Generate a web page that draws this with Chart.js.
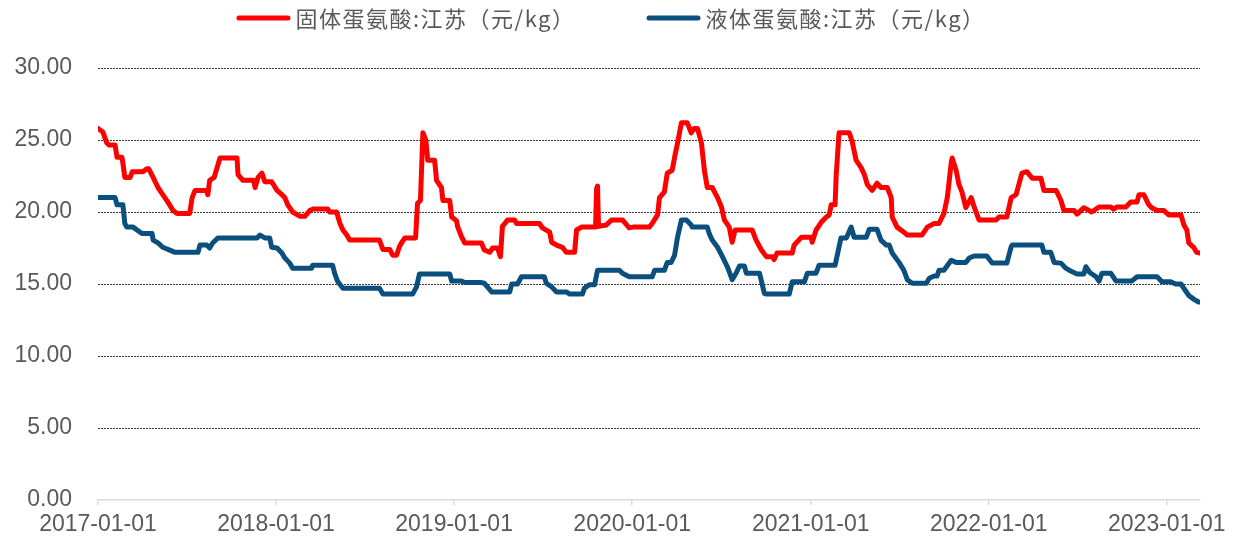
<!DOCTYPE html>
<html><head><meta charset="utf-8">
<script src="https://cdn.jsdelivr.net/npm/chart.js@4.4.1/dist/chart.umd.min.js"></script>
<style>html,body{margin:0;padding:0;background:#fff}</style>
</head><body>
<canvas id="c" width="1236" height="543"></canvas>
<script>
const seriesNames = ['固体蛋氨酸:江苏（元/kg）', '液体蛋氨酸:江苏（元/kg）'];
const seriesColors = ['#ff0000', '#0a4f7e'];
const xTickLabels = ['2017-01-01','2018-01-01','2019-01-01','2020-01-01','2021-01-01','2022-01-01','2023-01-01'];
const xStart = '2017-01-01';
const xEnd = '2023-03-10';
const yMin = 0, yMax = 30, yStep = 5;

const redDates = ['2017-01-01','2017-01-11','2017-01-19','2017-01-24','2017-02-05','2017-02-09','2017-02-19','2017-02-21','2017-02-25','2017-03-08','2017-03-12','2017-04-03','2017-04-11','2017-04-15','2017-04-24','2017-05-04','2017-05-12','2017-05-24','2017-06-04','2017-06-12','2017-07-08','2017-07-13','2017-07-19','2017-08-12','2017-08-14','2017-08-18','2017-08-27','2017-09-02','2017-09-08','2017-10-13','2017-10-15','2017-10-25','2017-11-16','2017-11-19','2017-11-25','2017-12-03','2017-12-09','2017-12-23',
'2018-01-03','2018-01-13','2018-01-19','2018-01-25','2018-02-04','2018-02-19','2018-03-01','2018-03-11','2018-03-17','2018-04-17','2018-04-21','2018-05-05','2018-05-12','2018-05-18','2018-05-26','2018-06-01','2018-08-01','2018-08-08','2018-08-22','2018-08-28','2018-09-05','2018-09-11','2018-09-16','2018-09-22','2018-10-14','2018-10-18','2018-10-24','2018-10-29','2018-11-04','2018-11-08','2018-11-22','2018-11-26','2018-12-06','2018-12-09','2018-12-23','2018-12-27',
'2019-01-06','2019-01-08','2019-01-16','2019-01-23','2019-02-26','2019-03-04','2019-03-15','2019-03-21','2019-03-31','2019-04-06','2019-04-10','2019-04-21','2019-05-05','2019-05-09','2019-06-25','2019-07-01','2019-07-16','2019-07-20','2019-07-30','2019-08-11','2019-08-19','2019-09-05','2019-09-09','2019-09-19','2019-10-18','2019-10-20','2019-10-22','2019-10-24','2019-11-09','2019-11-20','2019-12-12','2019-12-26',
'2020-01-02','2020-02-05','2020-02-11','2020-02-22','2020-02-26','2020-03-07','2020-03-13','2020-03-23','2020-03-28','2020-04-03','2020-04-11','2020-04-23','2020-05-01','2020-05-07','2020-05-14','2020-05-22','2020-05-28','2020-06-03','2020-06-13','2020-06-24','2020-07-02','2020-07-08','2020-07-18','2020-07-24','2020-07-30','2020-09-03','2020-09-11','2020-09-22','2020-10-02','2020-10-14','2020-10-18','2020-10-24','2020-11-24','2020-11-28','2020-12-13',
'2021-01-02','2021-01-04','2021-01-12','2021-01-23','2021-02-02','2021-02-08','2021-02-12','2021-02-20','2021-02-22','2021-02-28','2021-03-21','2021-03-27','2021-04-04','2021-04-14','2021-04-21','2021-04-27','2021-05-07','2021-05-17','2021-05-25','2021-06-07','2021-06-15','2021-06-17','2021-06-27','2021-07-11','2021-07-18','2021-08-17','2021-08-28','2021-09-11','2021-09-21','2021-10-01','2021-10-08','2021-10-16','2021-10-18','2021-10-26','2021-11-01','2021-11-07','2021-11-15','2021-11-26','2021-12-02','2021-12-12',
'2022-01-16','2022-01-22','2022-02-07','2022-02-16','2022-02-26','2022-03-10','2022-03-20','2022-03-31','2022-04-18','2022-04-24','2022-05-19','2022-05-29','2022-06-04','2022-06-25','2022-07-01','2022-07-15','2022-07-31','2022-08-15','2022-09-08','2022-09-14','2022-09-21','2022-10-09','2022-10-19','2022-11-01','2022-11-05','2022-11-15','2022-11-25','2022-12-01','2022-12-12','2022-12-26',
'2023-01-05','2023-01-30','2023-02-05','2023-02-11','2023-02-15','2023-02-25','2023-03-03','2023-03-10'];
const redValues = [25.8,25.55,24.8,24.65,24.65,23.8,23.8,23.4,22.4,22.4,22.8,22.8,23.0,23.0,22.4,21.7,21.3,20.7,20.1,19.9,19.9,21.0,21.5,21.5,21.2,22.2,22.4,23.05,23.75,23.75,22.6,22.2,22.2,21.7,22.4,22.7,22.1,22.1,
21.5,21.2,21.0,20.5,20.0,19.7,19.7,20.1,20.2,20.2,20.0,20.0,19.2,18.75,18.4,18.05,18.05,17.4,17.4,17.0,17.0,17.6,17.9,18.2,18.2,20.6,20.8,25.5,25.0,23.6,23.6,22.2,21.7,20.8,20.8,19.65,
19.4,19.0,18.3,17.85,17.85,17.36,17.2,17.5,17.5,16.9,19.0,19.45,19.45,19.2,19.2,18.9,18.6,17.9,17.7,17.55,17.2,17.2,18.75,18.95,18.95,21.6,21.8,19.0,19.1,19.45,19.45,18.9,
18.95,18.95,19.2,19.8,21.0,21.4,22.7,22.9,23.8,24.8,26.2,26.2,25.5,25.8,25.8,24.8,22.9,21.7,21.7,21.0,20.35,19.45,18.95,17.9,18.75,18.75,18.05,17.36,16.9,16.9,16.7,17.15,17.15,17.7,18.25,
18.25,17.9,18.75,19.3,19.65,19.8,20.5,20.5,22.4,25.5,25.5,24.9,23.6,23.1,22.6,21.9,21.5,22.0,21.7,21.7,21.0,19.65,18.95,18.6,18.4,18.4,18.95,19.2,19.2,19.9,21.0,23.4,23.75,22.9,21.9,21.4,20.3,21.0,20.35,19.45,
19.45,19.65,19.65,21.0,21.2,22.7,22.8,22.35,22.35,21.5,21.5,20.8,20.1,20.1,19.85,20.3,20.0,20.35,20.35,20.2,20.35,20.35,20.7,20.7,21.2,21.2,20.5,20.3,20.1,20.1,
19.8,19.8,19.1,18.75,17.85,17.55,17.2,17.15];

const blueDates = ['2017-01-01','2017-02-05','2017-02-09','2017-02-21','2017-02-25','2017-03-01','2017-03-14','2017-03-22','2017-04-01','2017-04-22','2017-04-24','2017-05-04','2017-05-14','2017-05-28','2017-06-08','2017-07-25','2017-07-29','2017-08-12','2017-08-18','2017-08-24','2017-09-04','2017-11-23','2017-11-29','2017-12-09','2017-12-19','2017-12-23',
'2018-01-03','2018-01-13','2018-01-19','2018-01-29','2018-02-04','2018-03-15','2018-03-17','2018-04-27','2018-05-01','2018-05-07','2018-05-18','2018-08-01','2018-08-08','2018-10-08','2018-10-16','2018-10-22','2018-12-23','2018-12-27',
'2019-01-16','2019-01-23','2019-02-26','2019-03-04','2019-03-19','2019-04-25','2019-04-29','2019-05-11','2019-05-19','2019-07-05','2019-07-09','2019-07-20','2019-07-30','2019-08-19','2019-08-26','2019-09-21','2019-09-25','2019-10-05','2019-10-16','2019-10-22','2019-12-06','2019-12-12','2019-12-26',
'2020-02-11','2020-02-16','2020-03-07','2020-03-13','2020-03-21','2020-03-28','2020-04-03','2020-04-11','2020-04-21','2020-05-01','2020-05-03','2020-06-03','2020-06-07','2020-06-13','2020-06-24','2020-07-04','2020-07-14','2020-07-24','2020-08-01','2020-08-08','2020-08-18','2020-08-22','2020-09-18','2020-09-28','2020-10-02','2020-11-18','2020-11-24','2020-12-19','2020-12-25',
'2021-01-12','2021-01-18','2021-02-20','2021-03-04','2021-03-15','2021-03-25','2021-03-31','2021-04-25','2021-05-01','2021-05-17','2021-05-25','2021-06-05','2021-06-11','2021-06-17','2021-07-01','2021-07-11','2021-07-18','2021-07-28','2021-08-26','2021-09-01','2021-09-11','2021-09-17','2021-09-21','2021-10-01','2021-10-16','2021-10-26','2021-11-15','2021-11-22','2021-12-02','2021-12-28',
'2022-01-08','2022-02-07','2022-02-16','2022-02-18','2022-04-20','2022-04-24','2022-05-08','2022-05-15','2022-05-29','2022-06-08','2022-06-18','2022-07-01','2022-07-15','2022-07-19','2022-07-27','2022-08-09','2022-08-15','2022-08-21','2022-09-08','2022-09-19','2022-10-21','2022-11-01','2022-12-12','2022-12-22',
'2023-01-09','2023-01-19','2023-01-30','2023-02-05','2023-02-15','2023-02-25','2023-03-07'];
const blueValues = [21.0,21.0,20.5,20.5,19.2,18.95,18.95,18.75,18.5,18.5,18.05,17.85,17.55,17.35,17.2,17.2,17.7,17.7,17.5,17.85,18.2,18.2,18.4,18.2,18.2,17.55,
17.5,17.15,16.8,16.45,16.1,16.1,16.3,16.3,15.75,15.2,14.7,14.7,14.3,14.3,14.8,15.7,15.7,15.2,
15.2,15.1,15.1,15.05,14.45,14.45,15.0,15.0,15.5,15.5,15.05,14.8,14.45,14.45,14.3,14.3,14.7,14.95,14.95,15.95,15.95,15.75,15.5,
15.5,15.95,15.95,16.5,16.5,17.0,18.25,19.45,19.45,19.1,18.95,18.95,18.5,18.05,17.55,16.9,16.2,15.3,15.75,16.25,16.25,15.75,15.75,14.35,14.3,14.3,15.15,15.15,15.75,
15.75,16.3,16.3,18.2,18.2,18.95,18.25,18.25,18.8,18.8,18.05,17.7,17.7,17.15,16.5,15.95,15.3,15.05,15.05,15.4,15.55,15.55,15.95,15.95,16.65,16.5,16.5,16.8,16.95,16.95,
16.45,16.45,17.6,17.7,17.7,17.2,17.2,16.5,16.45,16.1,15.9,15.7,15.7,16.2,15.8,15.5,15.2,15.75,15.75,15.2,15.2,15.5,15.5,15.15,
15.15,15.0,15.0,14.7,14.2,13.95,13.75];

function dayOf(s) {
  const p = s.split('-').map(Number);
  const b = xStart.split('-').map(Number);
  return (Date.UTC(p[0], p[1] - 1, p[2]) - Date.UTC(b[0], b[1] - 1, b[2])) / 86400000;
}
const xTickDays = xTickLabels.map(dayOf);
function toPoints(dates, values) { return dates.map((d, i) => ({ x: dayOf(d), y: values[i] })); }

const labelFont = { family: '"Liberation Sans", Arial, sans-serif', size: 23 };
const textColor = '#595959';

const legendPlugin = {
  id: 'customLegend',
  afterDraw(chart) {
    const ctx = chart.ctx;
    ctx.save();
    ctx.font = '22px "Noto Sans CJK SC", sans-serif';
    if ('letterSpacing' in ctx) ctx.letterSpacing = '1.5px';
    const items = chart.data.datasets.map(ds => ({ label: ds.label, color: ds.borderColor, w: ctx.measureText(ds.label).width }));
    const lineW = 54, gapT = 5, gapItems = 71;
    let total = 0;
    items.forEach((it, i) => { total += lineW + gapT + it.w + (i ? gapItems : 0); });
    let x = 611 - total / 2;
    const y = 18;
    items.forEach(it => {
      ctx.strokeStyle = it.color;
      ctx.lineWidth = 5;
      ctx.lineCap = 'round';
      ctx.beginPath();
      ctx.moveTo(x + 2.5, y);
      ctx.lineTo(x + lineW - 2.5, y);
      ctx.stroke();
      ctx.fillStyle = textColor;
      ctx.textBaseline = 'middle';
      ctx.textAlign = 'left';
      ctx.fillText(it.label, x + lineW + gapT, y + 1);
      x += lineW + gapT + it.w + gapItems;
    });
    ctx.restore();
  }
};

new Chart(document.getElementById('c'), {
  type: 'line',
  data: {
    datasets: [
      { label: seriesNames[0], data: toPoints(redDates, redValues), borderColor: seriesColors[0], backgroundColor: seriesColors[0], borderWidth: 5, pointRadius: 0, tension: 0, borderJoinStyle: 'round', borderCapStyle: 'round' },
      { label: seriesNames[1], data: toPoints(blueDates, blueValues), borderColor: seriesColors[1], backgroundColor: seriesColors[1], borderWidth: 5, pointRadius: 0, tension: 0, borderJoinStyle: 'round', borderCapStyle: 'round' }
    ]
  },
  options: {
    responsive: false,
    animation: false,
    devicePixelRatio: 1,
    layout: { padding: { top: 68, right: 36, left: 0, bottom: 0 } },
    plugins: { legend: { display: false }, tooltip: { enabled: false } },
    scales: {
      x: {
        type: 'linear',
        min: 0,
        max: dayOf(xEnd),
        afterBuildTicks(s) { s.ticks = xTickDays.map(v => ({ value: v })); },
        afterFit(s) { s.height = 43; },
        ticks: {
          autoSkip: false, maxRotation: 0, minRotation: 0, padding: 6,
          color: textColor, font: labelFont,
          callback(v) { const i = xTickDays.indexOf(v); return i >= 0 ? xTickLabels[i] : ''; }
        },
        grid: { drawOnChartArea: false, drawTicks: true, tickLength: 5, color: '#d9d9d9', lineWidth: 1.5 },
        border: { display: true, color: '#d9d9d9', width: 1.5 }
      },
      y: {
        min: yMin, max: yMax,
        afterFit(s) { s.width = 98; },
        ticks: { stepSize: yStep, padding: 26, color: textColor, font: labelFont, callback: v => v.toFixed(2) },
        grid: { drawTicks: false, lineWidth: 1, color: c => (c.tick && c.tick.value === 0) ? 'rgba(0,0,0,0)' : '#3a3a3a' },
        border: { display: false, dash: [2, 1] }
      }
    }
  },
  plugins: [legendPlugin]
});
</script>
</body></html>
